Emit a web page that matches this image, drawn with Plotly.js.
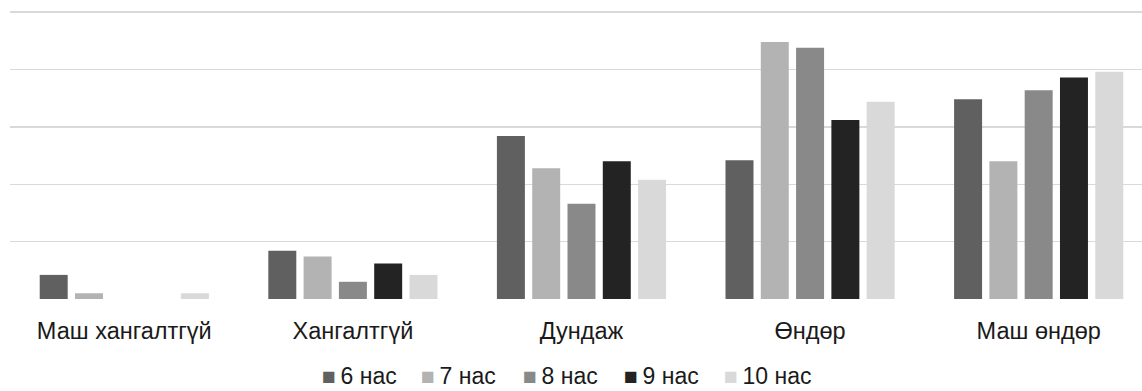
<!DOCTYPE html>
<html>
<head>
<meta charset="utf-8">
<script src="https://cdn.plot.ly/plotly-3.0.1.min.js"></script>
<style>html,body{margin:0;padding:0;background:#fff;}#chart{width:1142px;height:391px;}</style>
</head>
<body>
<div id="chart"></div>
<script>
const categories = ["Маш хангалтгүй", "Хангалтгүй", "Дундаж", "Өндөр", "Маш өндөр"];
const seriesNames = ["6 нас", "7 нас", "8 нас", "9 нас", "10 нас"];
const age6 = [2.1, 4.2, 14.2, 12.1, 17.4];
const age7 = [0.5, 3.7, 11.4, 22.4, 12.0];
const age8 = [0, 1.5, 8.3, 21.9, 18.2];
const age9 = [0, 3.1, 12.0, 15.6, 19.3];
const age10 = [0.5, 2.1, 10.4, 17.2, 19.8];
const seriesColors = ["#606060", "#b3b3b3", "#898989", "#232323", "#d9d9d9"];

const allValues = [age6, age7, age8, age9, age10];
const traces = allValues.map((vals, i) => ({
  type: "bar",
  x: categories,
  y: vals,
  name: seriesNames[i],
  marker: { color: seriesColors[i], line: { width: 0 } },
  showlegend: false,
  hoverinfo: "skip"
}));

const W = 1142, H = 391, ML = 10, MR = 0, MT = 11.15, MB = 91.7;
const plotW = W - ML - MR;
const plotH = H - MT - MB;
const legendStarts = [320.7, 420, 521.7, 622.7, 722.7];
const annotations = seriesNames.map((n, i) => ({
  xref: "paper", yref: "paper",
  x: (legendStarts[i] - ML) / plotW,
  y: -(MB - 0.5) / plotH,
  xanchor: "left", yanchor: "bottom",
  borderpad: 0,
  showarrow: false,
  text: '<span style="color:' + seriesColors[i] + '">■</span>\u2009' + n,
  font: { family: "Liberation Sans, Arial, sans-serif", size: 23, color: "#1a1a1a" }
}));

const layout = {
  width: W, height: H,
  margin: { l: ML, r: MR, t: MT, b: MB, pad: 0 },
  paper_bgcolor: "#ffffff",
  plot_bgcolor: "#ffffff",
  barmode: "group",
  bargap: 0.228,
  bargroupgap: 0.207,
  font: { family: "Liberation Sans, Arial, sans-serif", size: 23, color: "#1a1a1a" },
  xaxis: {
    type: "category",
    range: [-0.5, 4.452],
    showgrid: false,
    showline: false,
    zeroline: false,
    ticks: "",
    ticklabelstandoff: 15,
    tickfont: { family: "Liberation Sans, Arial, sans-serif", size: 23.5, color: "#1a1a1a" },
    fixedrange: true
  },
  yaxis: {
    range: [0, 25.1],
    tick0: 0,
    dtick: 5,
    showgrid: true,
    gridcolor: "#d9d9d9",
    gridwidth: 1.5,
    zeroline: false,
    showline: false,
    showticklabels: false,
    ticks: "",
    fixedrange: true
  },
  annotations: annotations
};

Plotly.newPlot("chart", traces, layout, { displayModeBar: false, staticPlot: true });
</script>
</body>
</html>
